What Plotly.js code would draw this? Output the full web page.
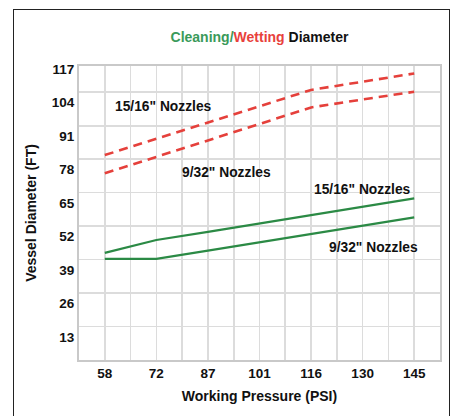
<!DOCTYPE html>
<html>
<head>
<meta charset="utf-8">
<script src="https://cdn.plot.ly/plotly-3.0.1.min.js"></script>
<style>
  html, body { margin: 0; padding: 0; background: #fff; }
  #wrap { position: relative; width: 454px; height: 416px; overflow: hidden; }
  #chart { width: 454px; height: 416px; }
  #frame { position: absolute; left: 13px; top: 9px; width: 437px; height: 500px;
           border: 1.5px solid #222; pointer-events: none; box-sizing: border-box; }
</style>
</head>
<body>
<div id="wrap">
  <div id="chart"></div>
  <div id="frame"></div>
</div>
<script>
// Working pressure categories (PSI)
const pressures = [58, 72, 87, 101, 116, 130, 145];
// Y tick labels (FT)
const yTicks = [13, 26, 39, 52, 65, 78, 91, 104, 117];

// Wetting diameter (red dashed)
const wetting_15_16 = [83.6, 89.9, 96.2, 102.6, 108.9, 112.1, 115.3];
const wetting_9_32  = [76.5, 82.9, 89.3, 95.7, 102.1, 105.2, 108.2];
// Cleaning diameter (green solid)
const cleaning_15_16 = [45.6, 50.6, 53.8, 57.1, 60.3, 63.6, 66.8];
const cleaning_9_32  = [43.3, 43.3, 46.5, 49.7, 52.9, 56.2, 59.4];

const xIdx = pressures.map((p, i) => i);

const RED = '#e5403b';
const GREEN = '#2b8a45';
const FONT = '"Liberation Sans", Arial, Helvetica, sans-serif';

const traces = [
  { x: xIdx, y: wetting_15_16, mode: 'lines', line: { color: RED, width: 2.6, dash: '9px,6px' }, hoverinfo: 'skip' },
  { x: xIdx, y: wetting_9_32,  mode: 'lines', line: { color: RED, width: 2.6, dash: '9px,6px' }, hoverinfo: 'skip' },
  { x: xIdx, y: cleaning_15_16, mode: 'lines', line: { color: GREEN, width: 2.2 }, hoverinfo: 'skip' },
  { x: xIdx, y: cleaning_9_32,  mode: 'lines', line: { color: GREEN, width: 2.2 }, hoverinfo: 'skip' }
];

const annFont = { family: FONT, size: 13.8, color: '#111', weight: 'bold' };

const layout = {
  width: 454, height: 416,
  margin: { l: 79, r: 14, t: 66, b: 56 },
  paper_bgcolor: '#fff', plot_bgcolor: '#fff',
  showlegend: false,
  font: { family: FONT, color: '#111' },
  title: {
    text: '<span style="color:#3a9a5a">Cleaning/</span><span style="color:#e8413c">Wetting</span> Diameter',
    font: { family: FONT, size: 14, weight: 'bold', color: '#111' },
    x: 0.5, xref: 'paper', xanchor: 'center',
    y: 1 - 37 / 416, yref: 'container', yanchor: 'middle'
  },
  xaxis: {
    range: [-0.5, 6.5],
    tickmode: 'array', tickvals: xIdx, ticktext: pressures.map(String),
    tickfont: { family: FONT, size: 13.5, weight: 'bold', color: '#111' },
    ticks: '', showgrid: true, gridcolor: '#dcdcdc', gridwidth: 1.6,
    minor: { tickmode: 'linear', tick0: 0.5, dtick: 1, showgrid: true, gridcolor: '#dcdcdc', gridwidth: 1.6, ticks: '' },
    showline: true, linecolor: '#c9c9c9', linewidth: 2, mirror: true,
    zeroline: false, fixedrange: true,
    title: { text: 'Working Pressure (PSI)', font: { family: FONT, size: 14, weight: 'bold', color: '#111' }, standoff: 11 }
  },
  yaxis: {
    range: [4, 118.2],
    tickmode: 'array', tickvals: yTicks, ticktext: yTicks.map(String),
    tickfont: { family: FONT, size: 13.5, weight: 'bold', color: '#111' },
    ticks: '', showgrid: false,
    minor: { tickmode: 'linear', tick0: 4, dtick: 13, showgrid: true, gridcolor: '#dcdcdc', gridwidth: 1.6, ticks: '' },
    showline: true, linecolor: '#c9c9c9', linewidth: 2, mirror: true,
    zeroline: false, fixedrange: true,
    title: { text: 'Vessel Diameter (FT)', font: { family: FONT, size: 14, weight: 'bold', color: '#111' }, standoff: 12 }
  },
  annotations: [
    { x: 1.13, y: 102.5, xref: 'x', yref: 'y', text: '15/16" Nozzles', showarrow: false, font: annFont },
    { x: 2.36, y: 77.0, xref: 'x', yref: 'y', text: '9/32" Nozzles', showarrow: false, font: annFont },
    { x: 5.0, y: 70.3, xref: 'x', yref: 'y', text: '15/16" Nozzles', showarrow: false, font: annFont },
    { x: 5.21, y: 47.6, xref: 'x', yref: 'y', text: '9/32" Nozzles', showarrow: false, font: annFont }
  ]
};

Plotly.newPlot('chart', traces, layout, { staticPlot: true, displayModeBar: false });
</script>
</body>
</html>
